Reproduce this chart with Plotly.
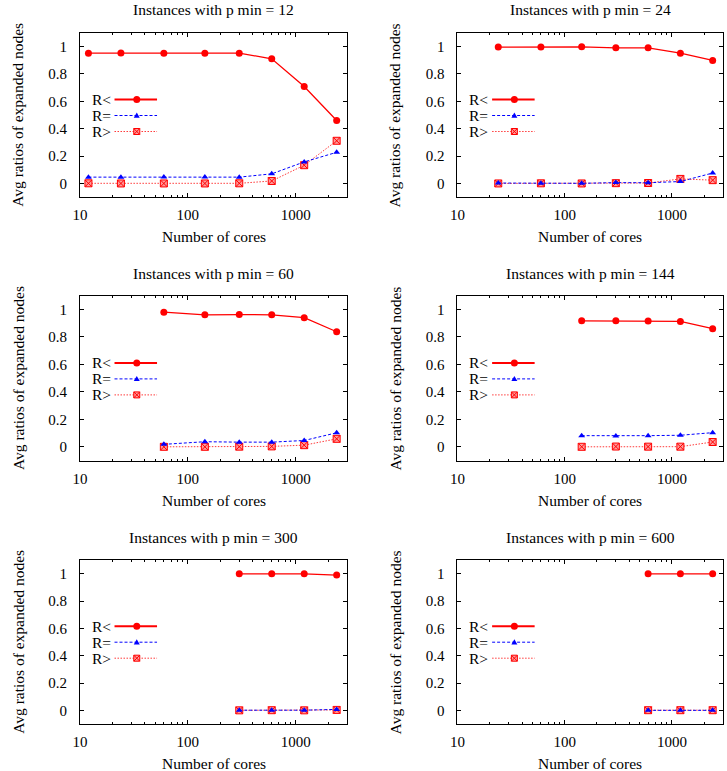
import plotly.graph_objects as go

# ---------------- data ----------------
cores = [12, 24, 60, 144, 300, 600, 1200, 2400]
p_min = [12, 24, 60, 144, 300, 600]
series_names = ["R<", "R=", "R>"]
y_ticks = [0, 0.2, 0.4, 0.6, 0.8, 1]
y_tick_text = ["0", "0.2", "0.4", "0.6", "0.8", "1"]
x_ticks = [10, 100, 1000]
x_tick_text = ["10", "100", "1000"]
x_minor_ticks = [20, 30, 40, 50, 60, 70, 80, 90,
                 200, 300, 400, 500, 600, 700, 800, 900, 2000, 3000]

r_lt_p12 = [0.951, 0.952, 0.951, 0.951, 0.951, 0.910, 0.708, 0.460]
r_eq_p12 = [0.047, 0.047, 0.048, 0.048, 0.047, 0.071, 0.158, 0.228]
r_gt_p12 = [0.002, 0.001, 0.001, 0.001, 0.002, 0.019, 0.134, 0.312]

r_lt_p24 = [0.995, 0.995, 0.997, 0.990, 0.990, 0.951, 0.898]
r_eq_p24 = [0.004, 0.003, 0.002, 0.007, 0.006, 0.015, 0.077]
r_gt_p24 = [0.001, 0.002, 0.001, 0.003, 0.004, 0.034, 0.025]

r_lt_p60 = [0.980, 0.961, 0.963, 0.961, 0.940, 0.838]
r_eq_p60 = [0.019, 0.038, 0.035, 0.035, 0.047, 0.103]
r_gt_p60 = [0.001, 0.001, 0.002, 0.004, 0.013, 0.059]

r_lt_p144 = [0.917, 0.917, 0.916, 0.913, 0.860]
r_eq_p144 = [0.082, 0.080, 0.082, 0.085, 0.104]
r_gt_p144 = [0.001, 0.003, 0.002, 0.002, 0.036]

r_lt_p300 = [0.999, 0.999, 0.999, 0.990]
r_eq_p300 = [0.001, 0.000, 0.001, 0.007]
r_gt_p300 = [0.000, 0.001, 0.000, 0.003]

r_lt_p600 = [0.999, 0.999, 0.999]
r_eq_p600 = [0.000, 0.000, 0.000]
r_gt_p600 = [0.001, 0.001, 0.001]

panels = [
    (r_lt_p12, r_eq_p12, r_gt_p12),
    (r_lt_p24, r_eq_p24, r_gt_p24),
    (r_lt_p60, r_eq_p60, r_gt_p60),
    (r_lt_p144, r_eq_p144, r_gt_p144),
    (r_lt_p300, r_eq_p300, r_gt_p300),
    (r_lt_p600, r_eq_p600, r_gt_p600),
]

# ---------------- layout geometry ----------------
W, H = 727, 771
col_left = [72.7, 454.5]
col_right = [342.9, 723.0]
row_top = [32.7, 295.7, 560.0]
row_bot = [197.3, 460.7, 724.0]

FONT = "Liberation Serif"
TXT = 15.5
RED = "#ff0000"
BLUE = "#0000ff"
PINK_FILL = "#ff9a9a"

style = {
    "R<": dict(line=dict(color=RED, width=1.3, dash="solid"),
               marker=dict(symbol="circle", size=7, color=RED, line=dict(width=0))),
    "R=": dict(line=dict(color=BLUE, width=1.0, dash="3px,2px"),
               marker=dict(symbol="triangle-up", size=6, color=BLUE, line=dict(width=0))),
    "R>": dict(line=dict(color="#ff3b3b", width=1.0, dash="1.5px,1.5px"),
               marker=dict(symbol="square-x", size=7, color=PINK_FILL,
                           line=dict(color=RED, width=1))),
}

fig = go.Figure()
layout = dict(
    width=W, height=H,
    margin=dict(l=0, r=0, t=0, b=0),
    paper_bgcolor="white", plot_bgcolor="white",
    showlegend=False,
    font=dict(family=FONT, size=TXT, color="black"),
)
annotations = []
shapes = []

for i, (lt, eq, gt) in enumerate(panels):
    n = i + 1
    r, c = divmod(i, 2)
    xs = [v for v in cores if v >= p_min[i]]
    xa = "x" if n == 1 else f"x{n}"
    ya = "y" if n == 1 else f"y{n}"
    # draw order: R<, R>, R=
    for name, vals in (("R<", lt), ("R>", gt), ("R=", eq)):
        st = style[name]
        fig.add_trace(go.Scatter(x=xs, y=vals, mode="lines+markers", name=name,
                                 line=st["line"], marker=st["marker"],
                                 xaxis=xa, yaxis=ya, showlegend=False,
                                 cliponaxis=False))
    x0p, x1p = col_left[c], col_right[c]
    y0p, y1p = row_top[r], row_bot[r]
    pw, ph = x1p - x0p, y1p - y0p
    common = dict(showline=True, linecolor="black", linewidth=1, mirror="ticks",
                  ticks="inside", ticklen=4, tickcolor="black", showgrid=False,
                  zeroline=False, tickfont=dict(family=FONT, size=15, color="black"))
    layout[f"xaxis{'' if n == 1 else n}"] = dict(
        domain=[x0p / W, x1p / W], anchor=ya, type="log",
        range=[1, 3.4771], tickvals=x_ticks, ticktext=x_tick_text,
        minor=dict(ticks="inside", ticklen=2, tickcolor="black",
                   tickvals=x_minor_ticks),
        ticklabelstandoff=4,
        **common)
    layout[f"yaxis{'' if n == 1 else n}"] = dict(
        domain=[1 - y1p / H, 1 - y0p / H], anchor=xa,
        range=[-0.1, 1.1], tickvals=y_ticks, ticktext=y_tick_text,
        ticklabelstandoff=9,
        **common)
    xd = f"{xa} domain"
    yd = f"{ya} domain"
    # titles
    annotations.append(dict(text=f"Instances with p min = {p_min[i]}", xref=xd, yref=yd,
                            x=0.5, y=1 + 22.7 / ph, xanchor="center", yanchor="middle",
                            showarrow=False, font=dict(size=TXT)))
    annotations.append(dict(text="Number of cores", xref=xd, yref=yd,
                            x=0.5, y=-39.5 / ph, xanchor="center", yanchor="middle",
                            showarrow=False, font=dict(size=TXT)))
    annotations.append(dict(text="Avg ratios of expanded nodes", xref=xd, yref=yd,
                            x=-62.8 / pw, y=0.5, xanchor="center", yanchor="middle",
                            textangle=-90, showarrow=False, font=dict(size=TXT)))
    # legend (text left, sample right)
    for k, name in enumerate(series_names):
        yy = (97.8 - 16 * k) / ph
        st = style[name]
        annotations.append(dict(text=name, xref=xd, yref=yd, x=10 / pw, y=yy,
                                xanchor="left", yanchor="middle", showarrow=False,
                                font=dict(size=TXT)))
        shapes.append(dict(type="line", xref=xd, yref=yd, x0=35 / pw, x1=78 / pw,
                           y0=yy, y1=yy,
                           line=dict(color=st["line"]["color"],
                                     width=st["line"]["width"] + (0.7 if name == "R<" else 0),
                                     dash=st["line"]["dash"])))
        mx = 57.5 / pw
        if name == "R<":
            shapes.append(dict(type="circle", xref=xd, yref=yd, xsizemode="pixel",
                               ysizemode="pixel", xanchor=mx, yanchor=yy,
                               x0=-3.5, x1=3.5, y0=-3.5, y1=3.5,
                               fillcolor=RED, line=dict(width=0)))
        elif name == "R=":
            shapes.append(dict(type="path", xref=xd, yref=yd, xsizemode="pixel",
                               ysizemode="pixel", xanchor=mx, yanchor=yy,
                               path="M-3,-2.2 L3,-2.2 L0,3 Z",
                               fillcolor=BLUE, line=dict(width=0)))
        else:
            shapes.append(dict(type="path", xref=xd, yref=yd, xsizemode="pixel",
                               ysizemode="pixel", xanchor=mx, yanchor=yy,
                               path="M-3,-3 L3,-3 L3,3 L-3,3 Z M-3,-3 L3,3 M-3,3 L3,-3",
                               fillcolor=PINK_FILL, line=dict(color=RED, width=1)))

layout["annotations"] = annotations
layout["shapes"] = shapes
fig.update_layout(**layout)
fig.write_html("out.html")
